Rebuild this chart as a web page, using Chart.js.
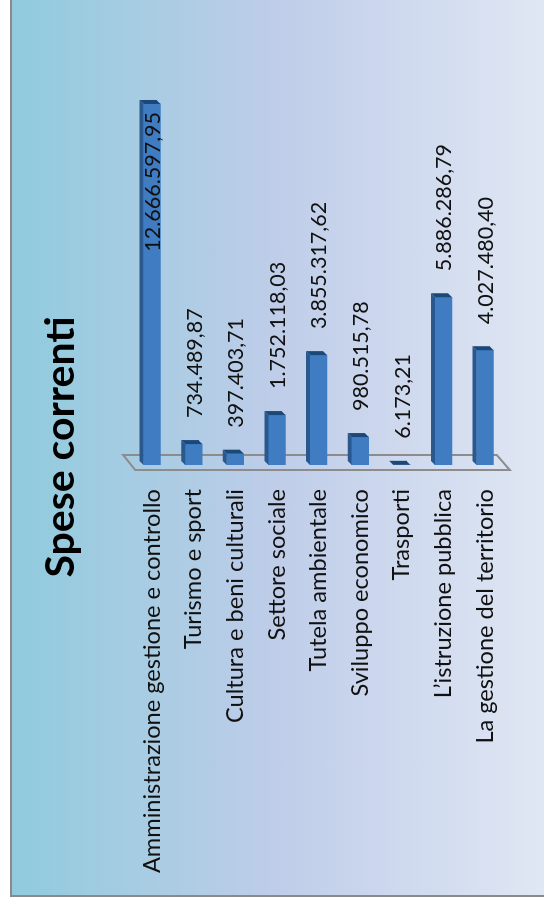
<!DOCTYPE html>
<html>
<head>
<meta charset="utf-8">
<script src="https://cdn.jsdelivr.net/npm/chart.js@4.4.1/dist/chart.umd.min.js"></script>
<style>
  html, body { margin: 0; padding: 0; background: #fff; overflow: hidden; width: 544px; height: 910px; }
  /* the whole slide is drawn landscape, then turned a quarter to the left */
  #frame {
    position: absolute; left: 10px; top: 897px;
    width: 900px; height: 536px; box-sizing: border-box;
    border: 2px solid #8a8a8a;
    transform-origin: 0 0; transform: rotate(-90deg);
    background: linear-gradient(to bottom, #90cbdd 0%, #bfcde9 50%, #e0e7f4 100%);
  }
  #wrap { position: absolute; left: 0; top: 0; width: 896px; height: 532px; }
</style>
</head>
<body>
<div id="frame"><div id="wrap"><canvas id="spese-chart"></canvas></div></div>
<script>
const categories = [
  'Amministrazione gestione e controllo',
  'Turismo e sport',
  'Cultura e beni culturali',
  'Settore sociale',
  'Tutela ambientale',
  'Sviluppo economico',
  'Trasporti',
  'L\u2019istruzione pubblica',
  'La gestione del territorio'
];
const values = [12666597.95, 734489.87, 397403.71, 1752118.03, 3855317.62, 980515.78, 6173.21, 5886286.79, 4027480.40];
const valueLabels = ['12.666.597,95', '734.489,87', '397.403,71', '1.752.118,03', '3.855.317,62', '980.515,78', '6.173,21', '5.886.286,79', '4.027.480,40'];

const FRONT = '#3f7cc2';
const SIDE = '#28588e';
const CAP = '#1c4878';
const DEPTH = 4;

function poly(ctx, pts) {
  ctx.beginPath();
  ctx.moveTo(pts[0][0], pts[0][1]);
  for (let i = 1; i < pts.length; i++) ctx.lineTo(pts[i][0], pts[i][1]);
  ctx.closePath();
  ctx.fill();
}

// fake 3D: floor outline behind the bars, side + cap faces and value labels on top
const depthPlugin = {
  id: 'depthPlugin',
  beforeDatasetsDraw(chart) {
    const { ctx, chartArea: a, scales: { x } } = chart;
    const b = x.getPixelForValue(0);
    ctx.save();
    ctx.strokeStyle = '#8c8c8c';
    ctx.lineWidth = 2;
    ctx.beginPath();
    ctx.moveTo(b + 10, a.top - 8);
    ctx.lineTo(b + 10, a.bottom - 9);
    ctx.lineTo(b - 5, a.bottom + 4);
    ctx.lineTo(b - 5, a.top + 4);
    ctx.closePath();
    ctx.stroke();
    ctx.restore();
  },
  afterDatasetsDraw(chart) {
    const { ctx } = chart;
    const meta = chart.getDatasetMeta(0);
    ctx.save();
    meta.data.forEach((bar, i) => {
      const { x: end, y, base, height } = bar.getProps(['x', 'y', 'base', 'height'], true);
      const top = y - height / 2, bot = y + height / 2;
      ctx.fillStyle = SIDE;
      poly(ctx, [[base, top], [end, top], [end + DEPTH, top - DEPTH], [base + DEPTH, top - DEPTH]]);
      ctx.fillStyle = CAP;
      poly(ctx, [[end, top], [end, bot], [end + DEPTH, bot - DEPTH], [end + DEPTH, top - DEPTH]]);

      ctx.font = '21.5px Lato';
      ctx.fillStyle = '#111';
      ctx.textBaseline = 'middle';
      const txt = valueLabels[i];
      const w = ctx.measureText(txt).width;
      if (end + 24 + w > chart.width - 5) {
        ctx.textAlign = 'right';
        ctx.fillText(txt, end - 8, y + 1);
      } else {
        ctx.textAlign = 'left';
        ctx.fillText(txt, end + 26, y + 1);
      }
    });
    ctx.restore();
  }
};

new Chart(document.getElementById('spese-chart'), {
  type: 'bar',
  data: {
    labels: categories,
    datasets: [{
      data: values,
      backgroundColor: FRONT,
      borderWidth: 0,
      barThickness: 17
    }]
  },
  options: {
    indexAxis: 'y',
    responsive: true,
    maintainAspectRatio: false,
    animation: false,
    layout: { padding: { top: 0, right: 0, bottom: 28, left: 0 } },
    plugins: {
      legend: { display: false },
      tooltip: { enabled: false },
      title: {
        display: true,
        text: 'Spese correnti',
        color: '#000',
        font: { family: 'Lato', size: 41, weight: 'bold' },
        padding: { top: 24, bottom: 46 }
      }
    },
    scales: {
      x: { display: false, min: 0, max: 16350000 },
      y: {
        grid: { display: false, drawTicks: false },
        border: { display: false },
        ticks: { color: '#111', font: { family: 'Lato', size: 23.6 }, padding: 24, autoSkip: false },
        afterFit: (s) => { s.width = 430; }
      }
    }
  },
  plugins: [depthPlugin]
});
</script>
</body>
</html>
